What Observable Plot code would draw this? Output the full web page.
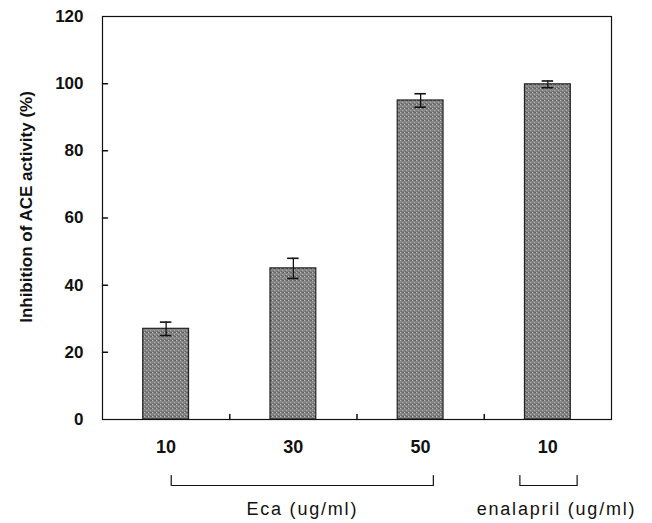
<!DOCTYPE html>
<html>
<head>
<meta charset="utf-8">
<script src="https://cdn.jsdelivr.net/npm/d3@7"></script>
<script src="https://cdn.jsdelivr.net/npm/@observablehq/plot@0.6"></script>
<style>
  html, body { margin: 0; padding: 0; background: #fff; }
  #chart svg { display: block; }
</style>
</head>
<body>
<div id="chart"></div>
<script>
// Data
const treatments = ["Eca", "Eca", "Eca", "enalapril"];
const doses = ["10", "30", "50", "10"];
const inhibition = [27, 45, 95, 99.8];
const errors = [2, 3, 2, 1];
const yTicks = [0, 20, 40, 60, 80, 100, 120];
const groupLabels = ["Eca (ug/ml)", "enalapril (ug/ml)"];
const groupStart = [0.04, 2.78];
const groupEnd = [2.1, 3.23];

const bars = doses.map((d, i) => ({i, treatment: treatments[i], dose: d, value: inhibition[i], err: errors[i]}));
const groups = groupLabels.map((g, k) => ({label: g, start: groupStart[k], end: groupEnd[k]}));
const bandEdges = [0.5, 1.5, 2.5];
const halfBar = 0.18, halfCap = 0.045;
const font = "'Liberation Sans', Arial, Helvetica, sans-serif";
// plain line segment shape for vectors (no arrow head)
const line = {draw(context, l) { context.moveTo(0, 0); context.lineTo(0, -l); }};

const chart = Plot.plot({
  width: 652,
  height: 523,
  marginLeft: 102,
  marginRight: 41,
  marginTop: 16,
  marginBottom: 104,
  style: {fontFamily: font, background: "#fff", color: "#111"},
  x: {domain: [-0.5, 3.5], axis: null},
  y: {domain: [0, 120], axis: null},
  marks: [
    Plot.rectY(bars, {x1: d => d.i - halfBar, x2: d => d.i + halfBar, y: "value", fill: "url(#stipple)", stroke: "#222", strokeWidth: 1.2}),
    Plot.ruleX(bars, {x: "i", y1: d => d.value - d.err, y2: d => d.value + d.err, stroke: "#111", strokeWidth: 1.3}),
    Plot.ruleY(bars, {y: d => d.value + d.err, x1: d => d.i - halfCap, x2: d => d.i + halfCap, stroke: "#111", strokeWidth: 1.6}),
    Plot.ruleY(bars, {y: d => d.value - d.err, x1: d => d.i - halfCap, x2: d => d.i + halfCap, stroke: "#111", strokeWidth: 1.6}),
    Plot.frame({stroke: "#111", strokeWidth: 1.2}),
    // y axis labels + inward ticks
    Plot.axisY({ticks: yTicks, tickSize: 0, tickPadding: 19, fontSize: 17, fontWeight: "bold", label: null}),
    Plot.vector(yTicks.slice(1, -1), {x: -0.5, y: d => d, length: 5, rotate: 90, anchor: "start", shape: line, stroke: "#111"}),
    // x axis labels + band separator ticks
    Plot.axisX({ticks: [0, 1, 2, 3], tickFormat: i => doses[i], tickSize: 0, tickPadding: 21, fontSize: 18, fontWeight: "bold", label: null}),
    Plot.vector(bandEdges, {x: d => d, y: 0, length: 5, rotate: 0, anchor: "start", shape: line, stroke: "#111"}),
    // group brackets
    Plot.link(groups, {x1: "start", x2: "end", y1: 0, y2: 0, dy: 66, stroke: "#111", strokeWidth: 1.2}),
    Plot.vector(groups, {x: "start", y: 0, dy: 66, length: 10, rotate: 0, anchor: "start", shape: line, stroke: "#111", strokeWidth: 1.2}),
    Plot.vector(groups, {x: "end", y: 0, dy: 66, length: 10, rotate: 0, anchor: "start", shape: line, stroke: "#111", strokeWidth: 1.2}),
    Plot.text(groups, {x: d => (d.start + d.end) / 2, y: 0, dy: 90, text: "label", fontSize: 18, fill: "#111"}),
    // y axis title
    Plot.text(["Inhibition of ACE activity (%)"], {frameAnchor: "left", textAnchor: "middle", rotate: -90, dx: -76, dy: -11, fontSize: 17, fontWeight: "bold", fill: "#111"})
  ]
});

// wider letter spacing for the group labels, as in the scanned figure;
// the enalapril label sits slightly right of its bracket in the reference
d3.select(chart).selectAll("text").filter(function() { return groupLabels.includes(this.textContent); })
  .style("letter-spacing", "1.8px")
  .filter(function() { return this.textContent === groupLabels[1]; })
  .attr("dx", 8);

// stipple pattern for the bars
const svg = d3.select(chart);
const defs = svg.insert("defs", ":first-child");
const pat = defs.append("pattern").attr("id", "stipple").attr("width", 4).attr("height", 4).attr("patternUnits", "userSpaceOnUse");
pat.append("rect").attr("width", 4).attr("height", 4).attr("fill", "#858585");
pat.append("rect").attr("x", 0).attr("y", 0).attr("width", 1).attr("height", 1).attr("fill", "#bdbdbd");
pat.append("rect").attr("x", 2).attr("y", 2).attr("width", 1).attr("height", 1).attr("fill", "#aaaaaa");
pat.append("rect").attr("x", 3).attr("y", 0).attr("width", 1).attr("height", 1).attr("fill", "#5a5a5a");
pat.append("rect").attr("x", 1).attr("y", 3).attr("width", 1).attr("height", 1).attr("fill", "#626262");
pat.append("rect").attr("x", 2).attr("y", 0).attr("width", 1).attr("height", 1).attr("fill", "#6a6a6a");

document.getElementById("chart").appendChild(chart);
</script>
</body>
</html>
